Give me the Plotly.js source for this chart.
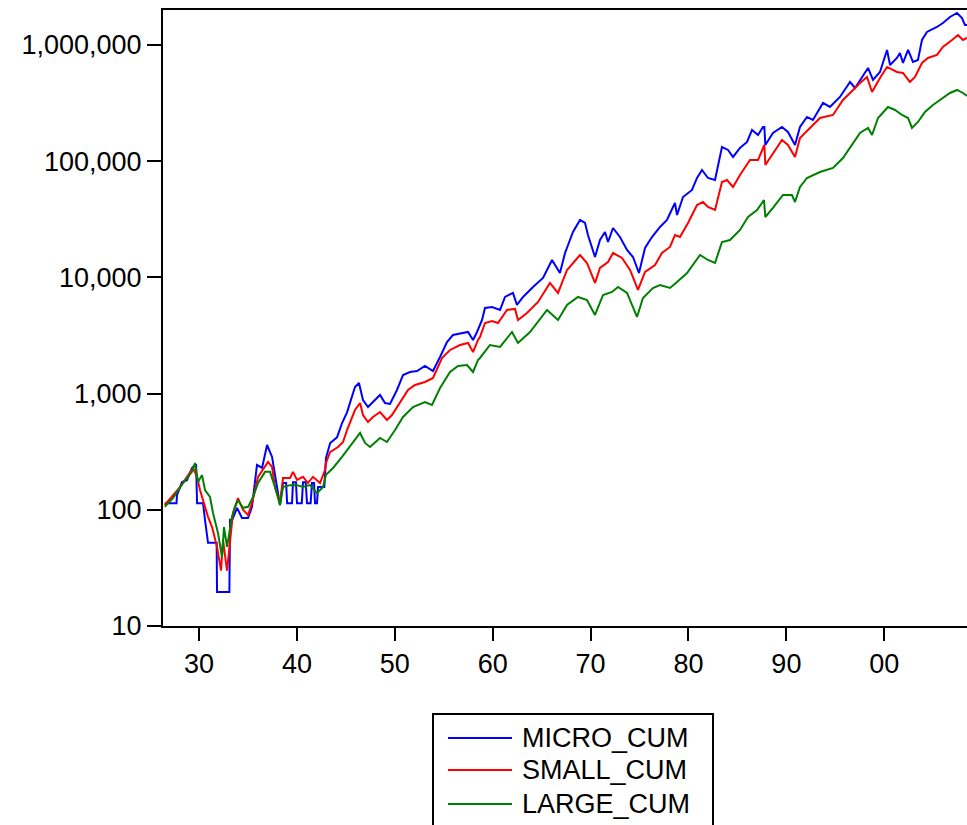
<!DOCTYPE html>
<html>
<head>
<meta charset="utf-8">
<script src="https://cdn.plot.ly/plotly-3.0.1.min.js"></script>
<style>html,body{margin:0;padding:0;background:#fff;}#chart{width:967px;height:825px;}</style>
</head>
<body>
<div id="chart"></div>
<script>
// ---- data ----
const seriesNames = ["MICRO_CUM", "SMALL_CUM", "LARGE_CUM"];
const seriesColors = ["#0000ff", "#ff0000", "#008000"];

const microYears = [1926.5,1927.7,1927.75,1928.26,1928.77,1929.28,1929.59,1929.7,1929.8,1930.41,1930.61,1930.92,1931.8,1931.84,1933.1,1933.17,1933.4,1933.88,1934.39,1935.01,1935.41,1935.92,1936.44,1936.95,1937.46,1937.97,1938.27,1938.58,1938.9,1939.0,1939.5,1939.6,1939.9,1940.01,1940.5,1940.62,1940.9,1941.03,1941.4,1941.54,1941.75,1941.85,1942.05,1942.16,1942.8,1942.97,1943.4,1944.1,1944.61,1945.12,1945.93,1946.34,1946.75,1947.26,1947.77,1948.49,1949.0,1949.51,1950.22,1950.84,1951.55,1952.27,1953.08,1953.9,1954.62,1955.33,1955.94,1956.97,1957.48,1957.99,1958.4,1958.91,1959.21,1959.93,1960.75,1961.26,1962.07,1962.48,1963.1,1964.12,1965.14,1966.06,1966.87,1967.39,1968.2,1968.92,1969.43,1969.73,1970.45,1970.96,1971.47,1971.78,1972.29,1973.0,1973.72,1974.33,1974.94,1975.56,1976.27,1977.09,1977.8,1978.42,1978.62,1978.83,1979.44,1980.36,1980.87,1981.38,1981.99,1982.71,1983.42,1984.04,1984.55,1985.26,1985.98,1986.49,1987.1,1987.61,1987.75,1987.85,1988.63,1989.55,1990.16,1990.88,1991.39,1992.1,1992.71,1993.74,1994.45,1995.47,1996.5,1997.01,1997.73,1998.34,1998.85,1999.56,2000.28,2000.59,2001.29,2001.6,2001.91,2002.43,2002.93,2003.44,2003.85,2004.36,2005.38,2005.99,2006.71,2007.43,2007.94,2008.24,2008.45];
const microValues = [114,114,134,173,180,229,243,243,114,114,82,52,52,19.6,19.6,82,82,104,85,85,106,243,229,361,285,148,110,170,170,114,114,173,173,114,114,173,173,114,114,170,170,114,114,157,157,280,376,420,558,690,1140,1234,881,767,847,973,830,814,1074,1446,1534,1565,1728,1565,2065,2780,3194,3322,3389,2893,3389,4298,5455,5564,5242,6783,7342,5789,6783,8269,9881,14120,10911,16220,24580,31190,29390,23160,14980,20980,24580,20160,26610,22260,17210,14980,10911,17910,22260,27150,31190,40350,43680,34440,49200,56530,71690,84000,71690,68900,132500,124900,108700,129900,146300,185600,168100,197000,197000,137800,174900,197000,178400,137800,197000,240100,226300,316900,292700,356900,480400,426600,530400,634000,499800,585600,905800,672900,773100,853500,700100,905800,714100,743000,1104000,1294000,1429000,1546000,1742000,1886000,1707000,1486000,1486000];

const smallYears = [1926.5,1927.24,1928.06,1928.77,1929.39,1929.8,1930.1,1930.61,1930.92,1931.33,1931.84,1932.25,1932.45,1932.86,1933.17,1933.47,1933.98,1934.49,1935.01,1935.41,1936.03,1936.54,1937.05,1937.46,1937.76,1938.27,1938.58,1939.3,1939.6,1940.01,1940.62,1941.13,1941.64,1942.36,1942.87,1942.97,1943.38,1944.2,1944.71,1945.12,1945.93,1946.45,1946.75,1947.26,1947.77,1948.49,1949.2,1949.71,1950.53,1951.35,1952.06,1953.08,1953.9,1954.82,1955.64,1956.66,1957.48,1957.99,1958.5,1958.7,1959.21,1959.93,1960.54,1961.46,1962.28,1962.58,1963.5,1964.63,1965.85,1966.67,1967.59,1968.61,1968.92,1969.63,1970.45,1970.96,1971.78,1972.29,1973.21,1974.03,1974.84,1975.56,1976.58,1977.29,1978.11,1978.62,1979.13,1979.95,1980.87,1981.48,1981.99,1982.71,1983.42,1983.93,1984.55,1985.26,1986.28,1987.1,1987.75,1987.85,1988.63,1989.55,1990.16,1990.88,1991.39,1992.41,1993.43,1994.76,1995.78,1996.81,1997.52,1998.24,1998.75,1999.56,2000.28,2001.29,2001.91,2002.62,2003.14,2003.85,2004.46,2005.38,2005.99,2006.92,2007.53,2008.04,2008.45];
const smallValues = [110,129,157,192,229,192,148,106,87,71,48,30,55,30,52,94,126,100,90,114,192,220,258,234,157,114,188,188,212,181,192,170,192,170,220,253,314,347,383,486,722,830,654,570,629,694,593,654,847,1074,1186,1259,1362,2025,2373,2619,2725,2280,2893,3070,4051,4214,4051,5242,5348,4298,4940,6143,8950,7342,11580,14690,15590,13300,8950,12050,13570,16220,14690,11580,7792,11130,12790,16220,18270,23160,22260,29390,41980,44560,40350,38020,66230,68900,59980,76070,102400,102400,137800,92750,117700,152200,137800,108700,158400,193100,235400,249800,336300,410000,471000,530400,394100,520000,646700,585600,574100,480400,530400,700100,773100,820400,961200,1104000,1219000,1104000,1149000];

const largeYears = [1926.5,1927.34,1928.37,1929.28,1929.59,1929.9,1930.31,1930.61,1931.12,1931.43,1931.94,1932.35,1932.55,1932.86,1933.37,1933.68,1933.98,1934.49,1935.01,1935.52,1936.03,1936.74,1937.25,1937.76,1938.27,1938.58,1939.3,1940.01,1940.62,1941.34,1942.05,1942.67,1942.97,1943.69,1944.61,1945.63,1946.45,1946.96,1947.47,1948.49,1949.2,1950.02,1950.84,1951.86,1953.08,1953.8,1954.62,1955.64,1956.46,1957.38,1957.99,1958.5,1958.7,1959.72,1960.75,1961.97,1962.58,1963.81,1965.55,1966.67,1967.59,1968.71,1969.63,1970.45,1971.27,1972.19,1972.8,1973.72,1974.74,1975.35,1976.37,1977.09,1978.11,1978.83,1979.85,1981.18,1981.99,1982.71,1983.42,1984.24,1985.26,1986.08,1987.0,1987.71,1987.85,1988.63,1989.65,1990.57,1990.88,1991.39,1992.1,1993.43,1994.76,1995.78,1996.81,1997.52,1998.34,1998.75,1999.36,2000.38,2001.1,2001.81,2002.43,2002.83,2003.44,2004.16,2004.97,2005.99,2006.71,2007.43,2008.04,2008.45];
const largeValues = [106,126,170,212,253,173,199,148,129,94,63,39,71,48,87,106,121,104,106,129,170,212,212,157,110,157,163,163,157,163,139,157,200,229,285,376,458,376,347,415,383,486,629,767,847,798,1117,1534,1728,1762,1534,1946,2025,2619,2518,3389,2725,3389,5242,4298,5789,6783,6392,4748,7057,7489,8269,7342,4563,6650,8107,8603,8107,9129,10911,15590,14120,13300,20160,20980,25580,33100,38020,46370,33100,39560,51190,51190,44560,59980,71690,80740,87400,106500,143400,174900,193100,168100,235400,292700,275800,249800,235400,193100,217500,265100,304500,349900,386300,410000,386300,364000];

const xTickVals = [1930,1940,1950,1960,1970,1980,1990,2000];
const xTickText = ["30","40","50","60","70","80","90","00"];
const yTickVals = [10,100,1000,10000,100000,1000000];
const yTickText = ["10","100","1,000","10,000","100,000","1,000,000"];

// ---- layout helpers (pixel -> paper for the legend box) ----
const W = 967, H = 825;
const M = {l:163, r:0, t:10, b:199};
const pw = W - M.l - M.r, ph = H - M.t - M.b;
const px = x => (x - M.l) / pw;
const py = y => (H - M.b - y) / ph;

const FONT = "Liberation Sans, Arial, Helvetica, sans-serif";

const xs = [microYears, smallYears, largeYears];
const ys = [microValues, smallValues, largeValues];
const traces = seriesNames.map((n, i) => ({
  type: "scatter", mode: "lines", name: n,
  x: xs[i], y: ys[i],
  line: {color: seriesColors[i], width: 2},
  showlegend: false, hoverinfo: "x+y+name"
}));

// custom legend (box, line samples, labels)
const shapes = [{
  type: "rect", xref: "paper", yref: "paper",
  x0: px(433), x1: px(713), y0: py(714), y1: py(840),
  line: {color: "#000", width: 2}, fillcolor: "rgba(0,0,0,0)"
}];
const legendY = [738, 770, 804];
const annotations = [];
seriesNames.forEach((n, i) => {
  shapes.push({
    type: "line", xref: "paper", yref: "paper",
    x0: px(448), x1: px(512), y0: py(legendY[i]), y1: py(legendY[i]),
    line: {color: seriesColors[i], width: 2}
  });
  annotations.push({
    xref: "paper", yref: "paper", x: px(520), y: py(legendY[i]),
    xanchor: "left", yanchor: "middle", showarrow: false,
    text: n, font: {family: FONT, size: 27, color: "#000"}
  });
});

const layout = {
  width: W, height: H,
  margin: M,
  paper_bgcolor: "#fff", plot_bgcolor: "#fff",
  showlegend: false,
  font: {family: FONT, size: 27, color: "#000"},
  xaxis: {
    range: [1926.32, 2008.45],
    tickmode: "array", tickvals: xTickVals, ticktext: xTickText,
    ticks: "outside", ticklen: 13, tickwidth: 2, tickcolor: "#000",
    showline: true, linecolor: "#000", linewidth: 2, mirror: true,
    showgrid: false, zeroline: false,
    tickfont: {family: FONT, size: 27, color: "#000"}
  },
  yaxis: {
    type: "log", range: [1, 6.301],
    tickmode: "array", tickvals: yTickVals, ticktext: yTickText,
    ticks: "outside", ticklen: 14, tickwidth: 2, tickcolor: "#000",
    showline: true, linecolor: "#000", linewidth: 2, mirror: false,
    showgrid: false, zeroline: false,
    tickfont: {family: FONT, size: 27, color: "#000"}
  },
  shapes: shapes,
  annotations: annotations
};

Plotly.newPlot("chart", traces, layout, {displayModeBar: false, staticPlot: true});
</script>
</body>
</html>
